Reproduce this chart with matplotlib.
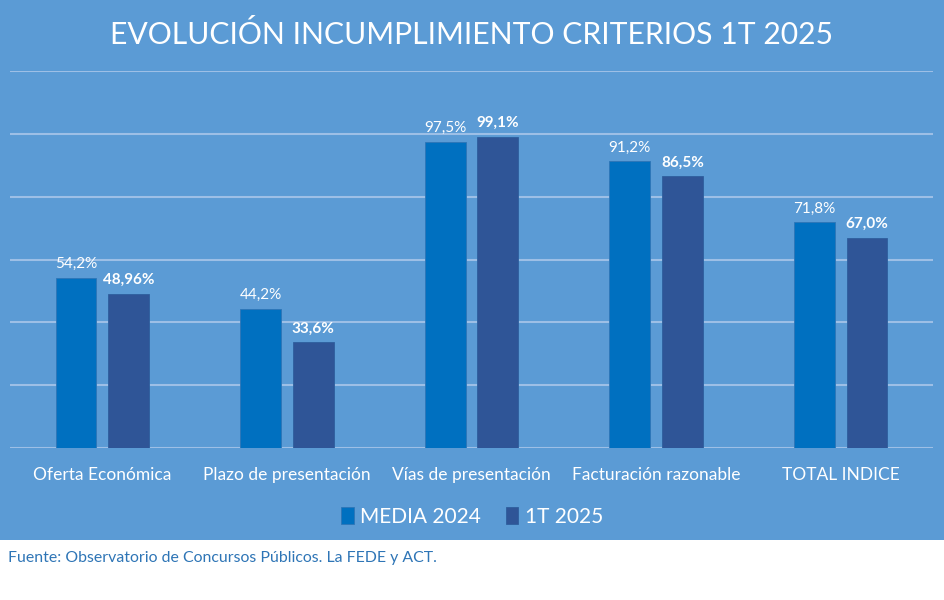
import matplotlib
matplotlib.use("Agg")
import matplotlib.pyplot as plt
import numpy as np

categories = ["Oferta Económica", "Plazo de presentación", "Vías de presentación",
              "Facturación razonable", "TOTAL INDICE"]
media_2024 = [54.2, 44.2, 97.5, 91.2, 71.8]
t1_2025 = [48.96, 33.6, 99.1, 86.5, 67.0]
labels_2024 = ["54,2%", "44,2%", "97,5%", "91,2%", "71,8%"]
labels_2025 = ["48,96%", "33,6%", "99,1%", "86,5%", "67,0%"]

plt.rcParams["font.family"] = ["Lato", "DejaVu Sans"]

bg = "#5B9BD5"
c1 = "#0070C0"
c2 = "#2F5597"

fig = plt.figure(figsize=(9.44, 6), dpi=100)
fig.patch.set_facecolor("white")

# blue panel
fig.add_artist(plt.Rectangle((0, 60 / 600), 1, 540 / 600, transform=fig.transFigure,
                             facecolor=bg, edgecolor="none", zorder=0))

ax = fig.add_axes([10 / 944, 1 - 448 / 600, 923 / 944, (448 - 71) / 600])
ax.set_facecolor("none")

x = np.arange(len(categories))
w = 0.22
gap = 0.065
b1 = ax.bar(x - w / 2 - gap / 2, media_2024, w, color=c1, edgecolor="#2E75B6", linewidth=0.6, zorder=3)
b2 = ax.bar(x + w / 2 + gap / 2, t1_2025, w, color=c2, edgecolor="#2E5F9E", linewidth=0.6, zorder=3)

for rect, lab in zip(b1, labels_2024):
    ax.annotate(lab, (rect.get_x() + rect.get_width() / 2, rect.get_height()),
                xytext=(0, 5), textcoords="offset points", ha="center", va="bottom",
                color="white", fontsize=11)
for rect, lab in zip(b2, labels_2025):
    ax.annotate(lab, (rect.get_x() + rect.get_width() / 2, rect.get_height()),
                xytext=(0, 5), textcoords="offset points", ha="center", va="bottom",
                color="white", fontsize=11, fontweight="bold")

ax.set_xlim(-0.5, len(categories) - 0.5)
ax.set_ylim(0, 120)
ax.set_yticks(np.arange(0, 121, 20))
ax.yaxis.grid(True, color="#9DBFE6", linewidth=1.5)
ax.set_axisbelow(True)
ax.tick_params(axis="y", left=False, labelleft=False)
ax.tick_params(axis="x", length=0, pad=14, labelsize=12.5, labelcolor="white")
ax.set_xticks(x)
ax.set_xticklabels(categories)
for s in ax.spines.values():
    s.set_visible(False)

fig.text(0.5, 1 - 35 / 600, "EVOLUCIÓN INCUMPLIMIENTO CRITERIOS 1T 2025",
         ha="center", va="center", color="white", fontsize=21.7)

leg = fig.legend([b1, b2], ["MEDIA 2024", "1T 2025"], loc="center",
                 bbox_to_anchor=(0.5, 1 - 517 / 600), ncol=2, frameon=False,
                 fontsize=15, labelcolor="white", handlelength=0.6, handleheight=0.9,
                 handletextpad=0.3, columnspacing=1.2)

fig.text(8 / 944, 1 - 558 / 600, "Fuente: Observatorio de Concursos Públicos. La FEDE y ACT.",
         ha="left", va="center", color="#2E75B6", fontsize=11.4)

plt.savefig("out.png", dpi=100, facecolor=fig.get_facecolor())
plt.close()
